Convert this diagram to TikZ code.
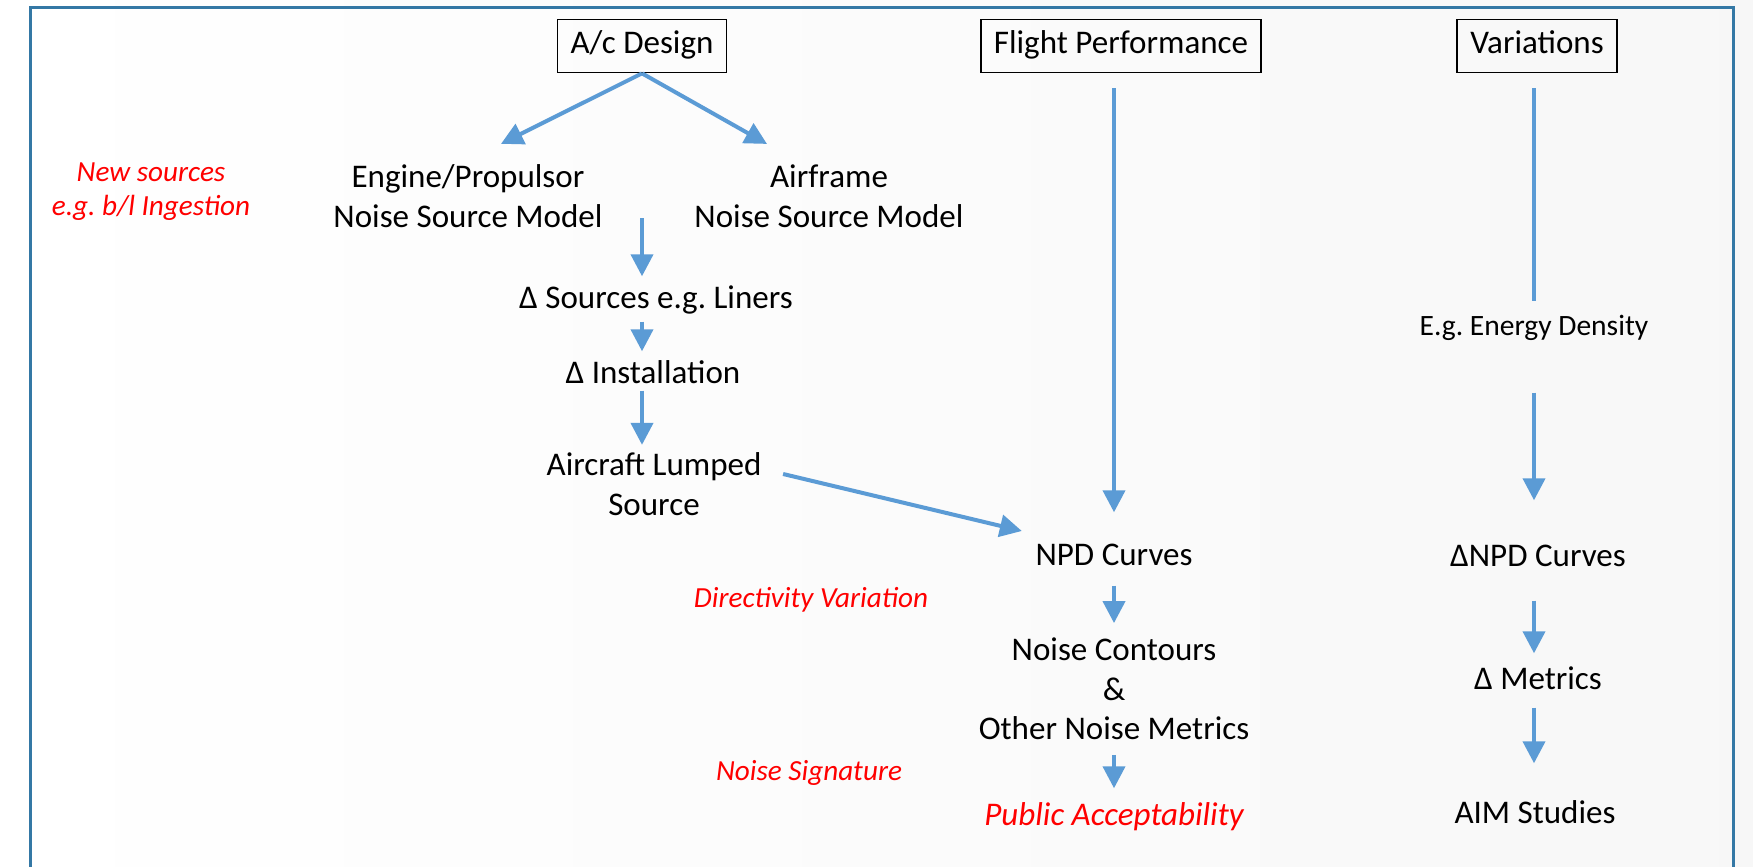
\documentclass[tikz,border=0pt]{standalone}
\usepackage{fontspec}
\setmainfont{Carlito}
\usetikzlibrary{arrows.meta,positioning}
\definecolor{flowblue}{RGB}{91,155,213}
\definecolor{frameblue}{RGB}{52,120,165}
\definecolor{notered}{RGB}{255,0,0}
\newcommand{\mainfs}{\fontsize{9.4pt}{11.3pt}\selectfont}
\newcommand{\notefs}{\fontsize{8.3pt}{9.7pt}\selectfont}
\newcommand{\edfs}{\fontsize{8.4pt}{10pt}\selectfont}
\frenchspacing

\begin{document}
\begin{tikzpicture}[
  box/.style={rectangle, draw, line width=0.5pt, inner xsep=0.13cm, inner ysep=0pt, minimum height=0.53cm, text height=0.23cm, text depth=0.07cm, font=\mainfs},
  txt/.style={inner sep=0pt, align=center, font=\mainfs},
  oneline/.style={inner sep=0pt, text height=0.22cm, text depth=0.06cm, font=\mainfs},
  note/.style={inner sep=0pt, align=center, text=notered, font=\notefs\itshape},
  flow/.style={draw=flowblue, line width=0.04cm, -{Triangle[length=0.22cm,width=0.22cm]}},
  font=\mainfs
]
\useasboundingbox (0,0) rectangle (17.53,-8.67);
\shade[left color=white, right color=black!3] (0,0) rectangle (17.53,-8.67);
\draw[frameblue, line width=0.03cm] (0.30,-8.67) -- (0.30,-0.08) -- (17.33,-0.08) -- (17.33,-8.67);

% column heads
\node[box] (acd) at (6.42,-0.46) {A/c Design};
\node[box] (fp) at (11.21,-0.46) {Flight Performance};
\node[box] (var) at (15.37,-0.46) {Variations};

% design column
\node[note] (newsrc) at (1.51,-1.92) {New sources\\e.g. b/l Ingestion};
\node[txt] (eng) at (4.68,-1.96) {Engine/Propulsor\\Noise Source Model};
\node[txt] (air) at (8.29,-1.96) {Airframe\\Noise Source Model};
\node[oneline] (src) at (6.56,-3.01) {Δ Sources e.g. Liners};
\node[oneline] (inst) at (6.53,-3.76) {Δ Installation};
\node[txt] (lump) at (6.54,-4.84) {Aircraft Lumped\\Source};

% performance column
\node[oneline] (npd) at (11.14,-5.58) {NPD Curves};
\node[txt] (cont) at (11.14,-6.89) {Noise Contours\\\&\\Other Noise Metrics};
\node[oneline, text=notered, font=\mainfs\itshape] (pub) at (11.14,-8.17) {Public Acceptability};
\node[note] (dir) at (8.11,-6.00) {Directivity Variation};
\node[note] (sig) at (8.09,-7.73) {Noise Signature};

% variations column
\node[oneline, font=\edfs, text height=0.19cm, text depth=0.05cm] (ed) at (15.34,-3.29) {E.g. Energy Density};
\node[oneline] (dnpd) at (15.38,-5.59) {ΔNPD Curves};
\node[oneline] (dmet) at (15.38,-6.82) {Δ Metrics};
\node[oneline] (aim) at (15.35,-8.15) {AIM Studies};

\draw[flow] (acd.south) -- ([shift={(0.33,0.20)}]eng.north);
\draw[flow] (acd.south) -- ([shift={(-0.62,0.20)}]air.north);
\draw[flow] ([yshift=0.10cm]eng.south -| acd.south) -- ([yshift=0.10cm]src.north -| acd.south);
\draw[flow] ([yshift=-0.06cm]src.south -| acd.south) -- ([yshift=0.10cm]inst.north -| acd.south);
\draw[flow] (inst.south -| acd.south) -- ([yshift=0.07cm]lump.north -| acd.south);
\draw[flow] ([shift={(0.21,0.10)}]lump.east) -- ([shift={(-0.13,0.27)}]npd.west);

\draw[flow] ([yshift=-0.15cm]fp.south -| npd.north) -- ([yshift=0.31cm]npd.north);
\draw[flow] ([yshift=-0.13cm]npd.south) -- ([yshift=0.14cm]cont.north);
\draw[flow] ([yshift=-0.14cm]cont.south) -- ([yshift=0.14cm]pub.north);

\draw[draw=flowblue, line width=0.04cm] ([yshift=-0.15cm]var.south -| ed.north) -- ([yshift=0.15cm]ed.north);
\draw[flow] ([yshift=-0.51cm]ed.south) -- ([yshift=0.44cm]dnpd.north -| ed.south);
\draw[flow] ([yshift=-0.27cm]dnpd.south -| ed.south) -- ([yshift=0.14cm]dmet.north -| ed.south);
\draw[flow] ([yshift=-0.11cm]dmet.south -| ed.south) -- ([yshift=0.37cm]aim.north -| ed.south);
\end{tikzpicture}
\end{document}
